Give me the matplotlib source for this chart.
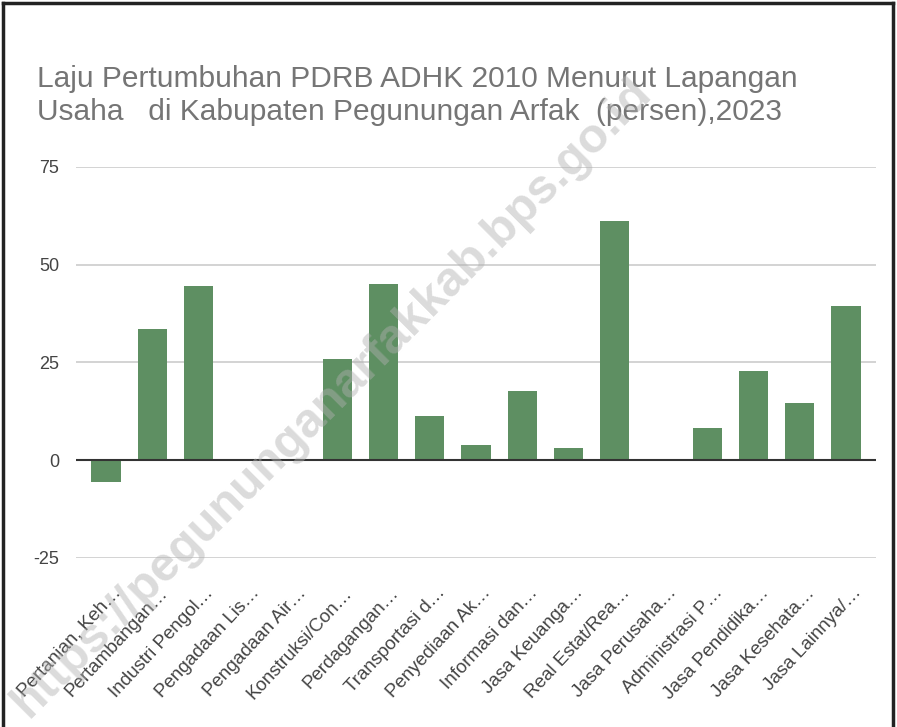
import matplotlib
matplotlib.use('Agg')
import matplotlib.pyplot as plt
import matplotlib.transforms as mtransforms

# data
sektor = ['Pertanian, Keh…', 'Pertambangan…', 'Industri Pengol…', 'Pengadaan Lis…',
          'Pengadaan Air…', 'Konstruksi/Con…', 'Perdagangan…', 'Transportasi d…',
          'Penyediaan Ak…', 'Informasi dan…', 'Jasa Keuanga…', 'Real Estat/Rea…',
          'Jasa Perusaha…', 'Administrasi P…', 'Jasa Pendidika…', 'Jasa Kesehata…',
          'Jasa Lainnya/…']
laju = [-5.6, 33.6, 44.6, 0.4, 0.0, 25.8, 45.1, 11.3, 3.9, 17.8, 3.0, 61.2,
        0.0, 8.3, 22.8, 14.7, 39.5]
yticks = [-25, 0, 25, 50, 75]

fig = plt.figure(figsize=(8.97, 7.27), dpi=100)
ax = fig.add_axes([0.0847, 0.2325, 0.892, 0.5378])

x = list(range(len(sektor)))
ax.bar(x, laju, width=0.63, color='#5e8f62', zorder=3)
ax.set_xlim(-0.65, len(sektor) - 0.35)
ax.set_ylim(-25, 75)
ax.set_yticks(yticks)
ax.set_yticklabels([str(v) for v in yticks], fontsize=13, color='#444444',
                   family='Liberation Sans')
ax.grid(axis='y', color='#cccccc', linewidth=1.2, zorder=0)
ax.axhline(0, color='#333333', linewidth=1.5, zorder=4)
ax.tick_params(axis='y', length=0, pad=12)
ax.tick_params(axis='x', length=0, pad=19)
for s in ax.spines.values():
    s.set_visible(False)

ax.set_xticks(x)
ax.set_xticklabels(sektor, rotation=47, ha='right', va='top', rotation_mode='anchor',
                   fontsize=13.5, color='#444444', family='Liberation Sans')
shift = mtransforms.ScaledTranslation(6 / 100, 0, fig.dpi_scale_trans)
for lab in ax.get_xticklabels():
    lab.set_transform(lab.get_transform() + shift)

fig.text(0.041, 0.910, 'Laju Pertumbuhan PDRB ADHK 2010 Menurut Lapangan\n'
         'Usaha   di Kabupaten Pegunungan Arfak  (persen),2023',
         fontsize=21.5, color='#757575', family='Liberation Sans', va='top',
         linespacing=1.2)

# watermark
fig.text(0.37, 0.452, 'https://pegununganarfakkab.bps.go.id', fontsize=35,
         fontweight='bold', color='#b0b0b0', alpha=0.45, rotation=45,
         ha='center', va='center', family='Liberation Sans', zorder=10)

# frame
fig.add_artist(plt.Line2D([0.003, 0.003], [0, 0.996], color='#222222', lw=2.5))
fig.add_artist(plt.Line2D([0.003, 0.996], [0.996, 0.996], color='#222222', lw=2.5))
fig.add_artist(plt.Line2D([0.996, 0.996], [0, 0.996], color='#222222', lw=2.5))

fig.savefig('out.png', dpi=100)
